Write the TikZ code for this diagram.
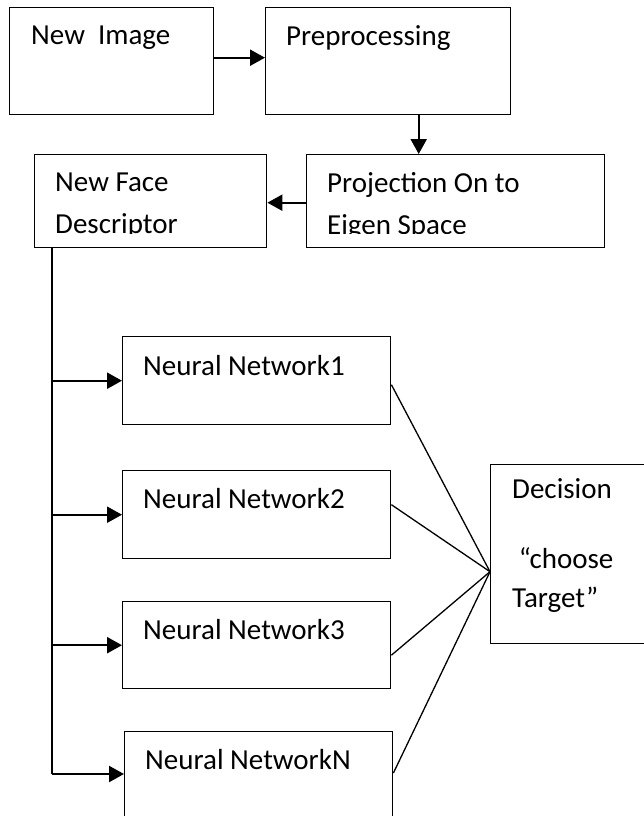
\documentclass[tikz,border=0pt]{standalone}
\usepackage{fontspec}
\setmainfont{Carlito}
\usepackage{tikz}
\usetikzlibrary{arrows.meta, positioning}
\tikzstyle{box} = [rectangle, draw=black, line width=1.4pt, anchor=north west, inner sep=0pt]
\tikzstyle{txt} = [anchor=west, inner sep=0pt, align=left, font=\fontsize{29}{42}\selectfont]
\tikzstyle{arrow} = [line width=2.2pt, -{Triangle[length=15pt,width=16pt]}]
\tikzstyle{link} = [line width=1.3pt]

\begin{document}
\begin{tikzpicture}[x=1pt, y=-1pt]
\clip (0,0) rectangle (644,816);

% top row
\node (img) [box, minimum width=204pt, minimum height=107pt] at (9,7) {};
\node (imgtxt) [txt] at (31,38) {New\ \ Image};
\node (prep) [box, minimum width=245pt, minimum height=107pt] at (265,7) {};
\node (preptxt) [txt] at (286,38) {Preprocessing};

% second row
\node (proj) [box, minimum width=298pt, minimum height=93pt] at (306,154) {};
\node (desc) [box, minimum width=232pt, minimum height=93pt] at (34,154) {};
\begin{scope}
\clip (30,150) rectangle (610,233);
\node (projtxt) [txt] at (327,206) {Projection On to\\Eigen Space};
\node (desctxt) [txt] at (55,206) {New Face\\Descriptor};
\end{scope}

% networks
\node (nn1) [box, minimum width=268pt, minimum height=88pt] at (122,336) {};
\node (nn1txt) [txt] at (143,366) {Neural Network1};
\node (nn2) [box, minimum width=268pt, minimum height=88pt] at (122,470) {};
\node (nn2txt) [txt] at (143,499) {Neural Network2};
\node (nn3) [box, minimum width=268pt, minimum height=87pt] at (122,601) {};
\node (nn3txt) [txt] at (143,630) {Neural Network3};
\node (nnN) [box, minimum width=268pt, minimum height=100pt] at (124,731) {};
\node (nnNtxt) [txt] at (145,760) {Neural NetworkN};

% decision
\node (dec) [box, minimum width=170pt, minimum height=179pt] at (490,464) {};
\node (dectxt) [txt, anchor=north west, font=\fontsize{29}{39}\selectfont] at (512,478) {Decision\\[31pt]\ “choose\\Target”};
\coordinate (hub) at ([yshift=-17.5pt]dec.west);

% Arrows
\draw [arrow] ([yshift=3.5pt]img.east) -- ([yshift=3.5pt]prep.west);
\draw [arrow] ([xshift=30.5pt]prep.south) -- ([xshift=30.5pt]prep.south |- proj.north);
\draw [arrow] ([yshift=-1.5pt]proj.west) -- ([yshift=-1.5pt]desc.east);
\coordinate (top) at ([xshift=18pt]desc.south west);
\coordinate (bot) at ([yshift=-43pt]nnN.north west);
\draw [link] (top) -- (top |- bot);
\foreach \n in {nn1,nn2,nn3}
  \draw [arrow] (top |- \n.west) -- (\n.west);
\draw [arrow] (top |- bot) -- (bot);

% links to decision
\draw [link] ([yshift=-4pt]nn1.east) -- (hub);
\draw [link] ([yshift=10pt]nn2.east) -- (hub);
\draw [link] ([yshift=-10pt]nn3.east) -- (hub);
\draw [link] ([yshift=-42pt]nnN.north east) -- (hub);

\end{tikzpicture}
\end{document}
